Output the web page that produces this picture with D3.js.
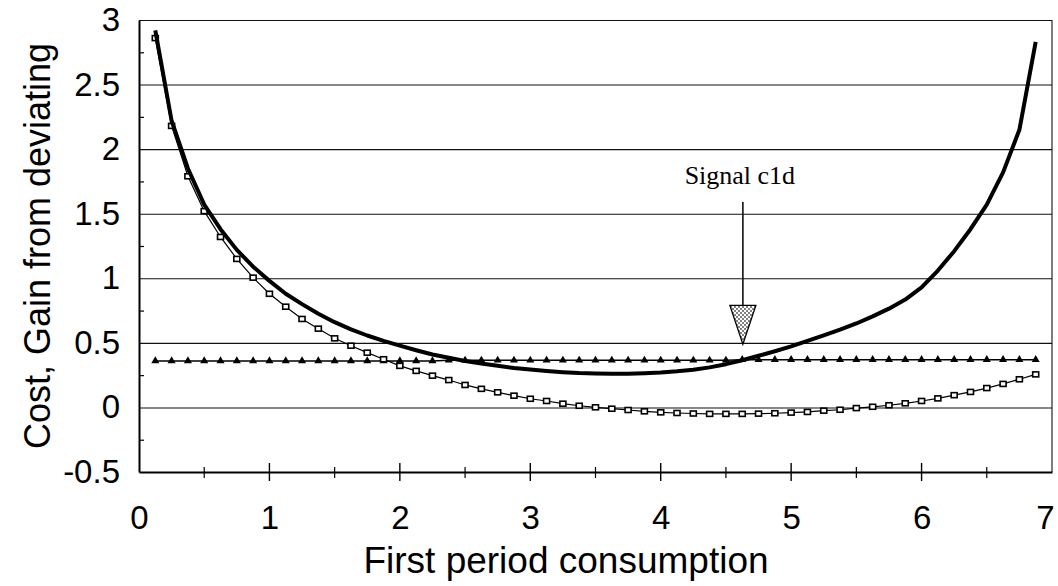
<!DOCTYPE html>
<html>
<head>
<meta charset="utf-8">
<script src="https://cdn.jsdelivr.net/npm/d3@7"></script>
<style>
  body { margin: 0; background: #fff; }
  text { font-family: "Liberation Sans", Arial, sans-serif; fill: #000; }
</style>
</head>
<body>
<div id="chart"></div>
<script>
// first period consumption (x positions of the plotted points)
var consumption = [0.125, 0.25, 0.375, 0.5, 0.625, 0.75, 0.875, 1.0, 1.125, 1.25,
  1.375, 1.5, 1.625, 1.75, 1.875, 2.0, 2.125, 2.25, 2.375, 2.5,
  2.625, 2.75, 2.875, 3.0, 3.125, 3.25, 3.375, 3.5, 3.625, 3.75,
  3.875, 4.0, 4.125, 4.25, 4.375, 4.5, 4.625, 4.75, 4.875, 5.0,
  5.125, 5.25, 5.375, 5.5, 5.625, 5.75, 5.875, 6.0, 6.125, 6.25,
  6.375, 6.5, 6.625, 6.75, 6.875];

// thick curve
var cost = [2.92, 2.22, 1.85, 1.57, 1.38, 1.22, 1.09, 0.98, 0.88, 0.80,
  0.725, 0.66, 0.605, 0.557, 0.515, 0.478, 0.443, 0.41, 0.385, 0.36,
  0.34, 0.322, 0.306, 0.293, 0.282, 0.273, 0.266, 0.262, 0.26, 0.261,
  0.265, 0.271, 0.28, 0.292, 0.31, 0.335, 0.365, 0.40, 0.435, 0.473,
  0.515, 0.558, 0.602, 0.65, 0.705, 0.765, 0.835, 0.93, 1.06, 1.21,
  1.38, 1.57, 1.82, 2.15, 2.83];

// thin line with square markers
var gain = [2.86, 2.18, 1.79, 1.52, 1.32, 1.15, 1.005, 0.88, 0.78, 0.685,
  0.61, 0.535, 0.478, 0.424, 0.373, 0.322, 0.283, 0.246, 0.212, 0.174,
  0.144, 0.117, 0.091, 0.067, 0.05, 0.029, 0.013, 0.001, -0.01, -0.02,
  -0.03, -0.038, -0.043, -0.047, -0.05, -0.05, -0.05, -0.048, -0.045, -0.04,
  -0.035, -0.025, -0.018, -0.005, 0.005, 0.017, 0.032, 0.05, 0.07, 0.095,
  0.12, 0.15, 0.182, 0.218, 0.256];

// line with triangle markers
var gainSignal = [0.36, 0.36, 0.36, 0.36, 0.36, 0.36, 0.36, 0.36, 0.36, 0.36,
  0.36, 0.36, 0.36, 0.36, 0.36, 0.36, 0.36, 0.36, 0.365, 0.365,
  0.365, 0.365, 0.365, 0.365, 0.365, 0.365, 0.365, 0.365, 0.365, 0.365,
  0.365, 0.365, 0.365, 0.365, 0.365, 0.365, 0.37, 0.37, 0.37, 0.37,
  0.37, 0.37, 0.37, 0.37, 0.37, 0.37, 0.37, 0.37, 0.37, 0.37,
  0.37, 0.37, 0.37, 0.37, 0.37];

var xTicks = [0, 1, 2, 3, 4, 5, 6, 7];
var xMinorTicks = [0.5, 1.5, 2.5, 3.5, 4.5, 5.5, 6.5];
var yTicks = [-0.5, 0, 0.5, 1, 1.5, 2, 2.5, 3];
var yMinorTicks = [-0.25, 0.25, 0.75, 1.25, 1.75, 2.25, 2.75];

// "Signal c1d" annotation, in data units
var signalLabel = 'Signal c1d';
var signalX = 4.63;
var signalTextY = 1.73;
var signalLineTop = 1.59;
var signalHeadTop = 0.79;
var signalHeadTip = 0.49;

var width = 1058,
    height = 586,
    plotLeft = 139,
    plotRight = 1052,
    plotTop = 20,
    plotBottom = 472;

var x = d3.scaleLinear().domain([0, 7]).range([plotLeft, plotRight]);
var y = d3.scaleLinear().domain([-0.5, 3]).range([plotBottom, plotTop]);

var svg = d3.select('#chart').append('svg')
  .attr('width', width)
  .attr('height', height);

// stipple fill for the arrow head
var pat = svg.append('defs').append('pattern')
  .attr('id', 'dots')
  .attr('width', 4)
  .attr('height', 4)
  .attr('patternUnits', 'userSpaceOnUse');
pat.append('rect').attr('width', 4).attr('height', 4).attr('fill', '#fff');
pat.append('circle').attr('cx', 1).attr('cy', 1).attr('r', 0.9).attr('fill', '#444');
pat.append('circle').attr('cx', 3).attr('cy', 3).attr('r', 0.9).attr('fill', '#444');

// gridlines (top one is the frame)
svg.append('g')
  .attr('transform', 'translate(' + plotLeft + ',0)')
  .call(d3.axisRight(y).tickValues(yTicks.slice(1)).tickSize(plotRight - plotLeft).tickFormat(''))
  .call(function(g) {
    g.select('.domain').remove();
    g.selectAll('line').attr('stroke', '#111').attr('stroke-width', 1.1);
  });

// right border
svg.append('line')
  .attr('x1', plotRight).attr('x2', plotRight)
  .attr('y1', plotTop).attr('y2', plotBottom)
  .attr('stroke', '#111').attr('stroke-width', 1.1);

// y axis with labels
svg.append('g')
  .attr('transform', 'translate(' + plotLeft + ',0)')
  .call(d3.axisLeft(y).tickValues(yTicks).tickSize(0).tickPadding(19)
    .tickFormat(function(d) { return d; }))
  .call(function(g) {
    g.select('.domain').attr('stroke', '#000').attr('stroke-width', 2);
    g.selectAll('text').style('font-size', '33px').style('font-family', '"Liberation Sans", Arial, sans-serif');
  });

// y minor ticks
svg.append('g')
  .attr('transform', 'translate(' + plotLeft + ',0)')
  .call(d3.axisRight(y).tickValues(yMinorTicks).tickSize(5).tickFormat(''))
  .call(function(g) {
    g.select('.domain').remove();
    g.selectAll('line').attr('stroke', '#000').attr('stroke-width', 1.2);
  });

// x axis
svg.append('g')
  .attr('transform', 'translate(0,' + plotBottom + ')')
  .call(d3.axisBottom(x).tickValues(xTicks).tickSize(0).tickPadding(34)
    .tickFormat(function(d) { return d; }))
  .call(function(g) {
    g.select('.domain').attr('stroke', '#000').attr('stroke-width', 2);
    g.selectAll('text')
      .style('font-size', '33px')
      .style('font-family', '"Liberation Sans", Arial, sans-serif')
      .attr('dx', function(d) { return d === 7 ? -7 : 0; });
  });

// x ticks crossing the axis
svg.append('g').selectAll('line')
  .data(xTicks.slice(1, 7))
  .enter().append('line')
    .attr('x1', function(d) { return x(d); })
    .attr('x2', function(d) { return x(d); })
    .attr('y1', plotBottom - 9)
    .attr('y2', plotBottom + 9)
    .attr('stroke', '#000')
    .attr('stroke-width', 1.4);

svg.append('g').selectAll('line')
  .data(xMinorTicks)
  .enter().append('line')
    .attr('x1', function(d) { return x(d); })
    .attr('x2', function(d) { return x(d); })
    .attr('y1', plotBottom - 5)
    .attr('y2', plotBottom + 6)
    .attr('stroke', '#000')
    .attr('stroke-width', 1.2);

// axis titles
svg.append('text')
  .attr('x', 566)
  .attr('y', 573)
  .attr('text-anchor', 'middle')
  .style('font-size', '37px')
  .text('First period consumption');

svg.append('text')
  .attr('transform', 'translate(50,' + y(1.25) + ') rotate(-90)')
  .attr('text-anchor', 'middle')
  .style('font-size', '36px')
  .text('Cost, Gain from deviating');

var rows = consumption.map(function(c, i) {
  return { x: c, cost: cost[i], gain: gain[i], signal: gainSignal[i] };
});

function lineFor(key) {
  return d3.line()
    .x(function(d) { return x(d.x); })
    .y(function(d) { return y(d[key]); });
}

// triangle series
svg.append('path')
  .datum(rows)
  .attr('d', lineFor('signal'))
  .attr('fill', 'none')
  .attr('stroke', '#000')
  .attr('stroke-width', 1.5);

svg.append('g').selectAll('path')
  .data(rows)
  .enter().append('path')
    .attr('d', d3.symbol().type(d3.symbolTriangle).size(28))
    .attr('transform', function(d) { return 'translate(' + x(d.x) + ',' + y(d.signal) + ')'; })
    .attr('fill', '#000');

// square series
svg.append('path')
  .datum(rows)
  .attr('d', lineFor('gain'))
  .attr('fill', 'none')
  .attr('stroke', '#000')
  .attr('stroke-width', 1.2);

svg.append('g').selectAll('rect')
  .data(rows)
  .enter().append('rect')
    .attr('x', function(d) { return x(d.x) - 3; })
    .attr('y', function(d) { return y(d.gain) - 2.5; })
    .attr('width', 6)
    .attr('height', 5)
    .attr('fill', '#fff')
    .attr('stroke', '#000')
    .attr('stroke-width', 1.6);

// thick cost curve
svg.append('path')
  .datum(rows)
  .attr('d', lineFor('cost'))
  .attr('fill', 'none')
  .attr('stroke', '#000')
  .attr('stroke-width', 4)
  .attr('stroke-linejoin', 'round');

// signal annotation
svg.append('text')
  .attr('x', x(signalX) - 3)
  .attr('y', y(signalTextY))
  .attr('text-anchor', 'middle')
  .style('font-family', '"Liberation Serif", "Times New Roman", serif')
  .style('font-size', '26px')
  .text(signalLabel);

svg.append('line')
  .attr('x1', x(signalX)).attr('x2', x(signalX))
  .attr('y1', y(signalLineTop)).attr('y2', y(signalHeadTop))
  .attr('stroke', '#000')
  .attr('stroke-width', 1.5);

svg.append('path')
  .attr('d', 'M' + (x(signalX) - 13) + ',' + y(signalHeadTop) +
    'L' + (x(signalX) + 13) + ',' + y(signalHeadTop) +
    'L' + x(signalX) + ',' + y(signalHeadTip) + 'Z')
  .attr('fill', 'url(#dots)')
  .attr('stroke', '#000')
  .attr('stroke-width', 1.3);
</script>
</body>
</html>
